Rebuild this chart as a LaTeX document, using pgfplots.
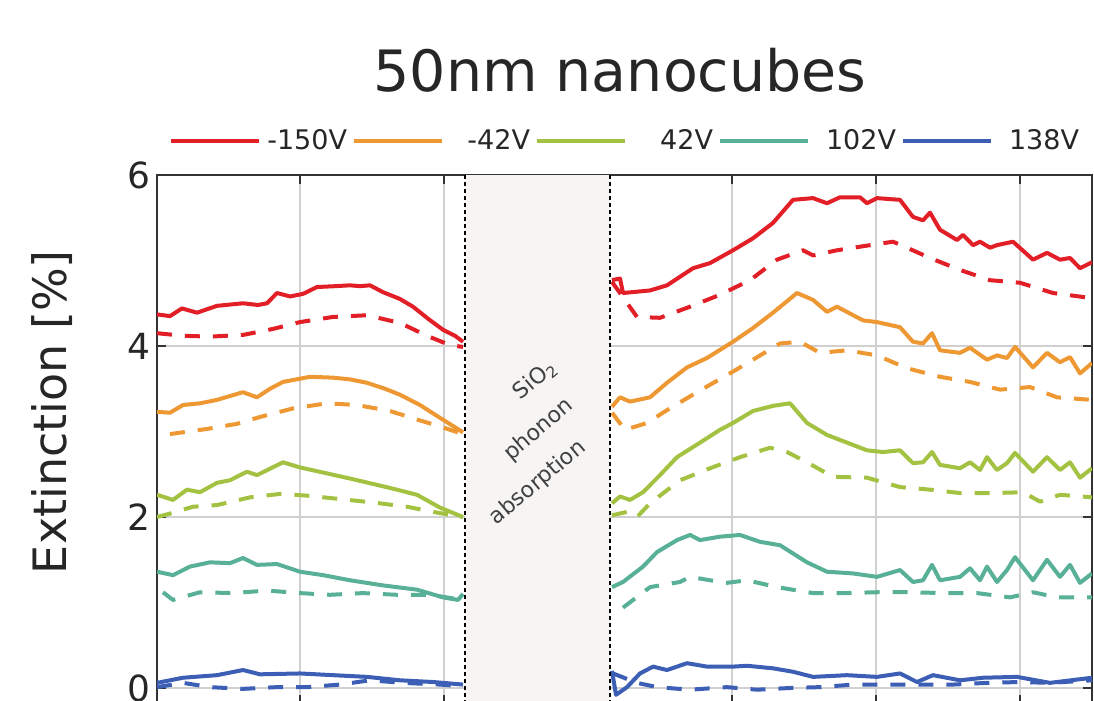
\documentclass[border=0pt]{standalone}
\usepackage{fontspec}
\setmainfont{DejaVu Sans}
\usepackage{pgfplots}
\pgfplotsset{compat=1.18}
\definecolor{cRed}{RGB}{226,30,38}
\definecolor{cOrange}{RGB}{238,152,52}
\definecolor{cGreen}{RGB}{164,194,66}
\definecolor{cTeal}{RGB}{88,176,150}
\definecolor{cBlue}{RGB}{60,94,180}
\definecolor{bandc}{RGB}{246,245,244}
\definecolor{gridc}{RGB}{208,208,208}
\begin{document}
\begin{tikzpicture}
\begin{axis}[
  scale only axis, width=467.5bp, height=264.6bp,
  xmin=157, xmax=1092, ymin=-0.19, ymax=6,
  xtick={300,444,588,732,876,1020}, xticklabels={},
  ytick={0,2,4,6},
  grid=major, major grid style={gridc, line width=0.6bp},
  tick align=inside, major tick length=4.5bp,
  tick style={line width=0.8bp, black!80},
  axis line style={line width=1bp, black!80},
  /pgf/number format/assume math mode=true,
  yticklabel style={font=\fontsize{18bp}{20bp}\selectfont, text=black!85},
  ylabel={Extinction [\%]},
  ylabel style={font=\fontsize{23bp}{26bp}\selectfont, text=black!85, at={(axis description cs:-0.112,0.552)}, anchor=center},
  title={50nm nanocubes},
  title style={font=\fontsize{28.5bp}{32bp}\selectfont, text=black!85, at={(axis description cs:0.4952,1.176)}, anchor=center},
  legend columns=5,
  legend style={at={(axis description cs:0.4995,1.064)}, anchor=center, draw=none, fill=none,
    font=\fontsize{13.5bp}{15bp}\selectfont, text=black!85, inner sep=0pt, outer sep=0pt,
    nodes={inner sep=0pt, text width=41bp, align=right},
    /tikz/every odd column/.append style={column sep=2bp},
    /tikz/every even column/.append style={column sep=2.5bp}},
  legend image code/.code={\draw[#1] (0bp,0bp) -- (44bp,0bp);},
  every axis plot/.append style={no marks, line width=2bp, line join=round},
]
% ---------- red ----------
\addplot[cRed] coordinates {(157,4.37) (170,4.35) (182,4.44) (197,4.39) (217,4.47) (243,4.50) (258,4.48) (267,4.50) (277,4.62) (290,4.58) (303,4.61) (317,4.69) (335,4.70) (350,4.71) (360,4.70) (370,4.71) (383,4.63) (400,4.55) (413,4.46) (428,4.32) (443,4.19) (455,4.12) (463,4.05)};
\addlegendentry{\mbox{-150V}}
\addplot[cRed, forget plot] coordinates {(612,4.77) (620,4.79) (623,4.62) (650,4.65) (667,4.71) (693,4.91) (710,4.97) (733,5.12) (753,5.26) (773,5.44) (793,5.71) (813,5.73) (827,5.67) (840,5.74) (860,5.74) (867,5.67) (877,5.73) (900,5.71) (913,5.51) (923,5.47) (930,5.56) (940,5.36) (957,5.24) (963,5.30) (973,5.18) (980,5.22) (990,5.15) (997,5.18) (1013,5.22) (1033,5.01) (1047,5.09) (1060,5.01) (1070,5.03) (1080,4.91) (1092,4.98)};
\addplot[cRed, forget plot, dash pattern=on 7.5bp off 6.5bp] coordinates {(157,4.15) (183,4.12) (210,4.11) (243,4.13) (273,4.20) (300,4.28) (333,4.34) (367,4.36) (400,4.27) (427,4.12) (450,4.01) (463,3.99)};
\addplot[cRed, forget plot, dash pattern=on 7.5bp off 6.5bp] coordinates {(612,4.75) (620,4.62) (637,4.34) (660,4.33) (690,4.46) (720,4.60) (750,4.77) (777,5.01) (803,5.12) (813,5.06) (837,5.12) (870,5.18) (893,5.22) (907,5.15) (930,5.03) (960,4.89) (990,4.77) (1020,4.74) (1053,4.62) (1092,4.56)};
% ---------- orange ----------
\addplot[cOrange] coordinates {(157,3.23) (170,3.22) (183,3.31) (200,3.33) (217,3.37) (243,3.46) (257,3.40) (270,3.50) (283,3.58) (310,3.64) (333,3.63) (350,3.61) (367,3.57) (385,3.50) (400,3.43) (420,3.31) (440,3.16) (455,3.05) (463,2.99)};
\addlegendentry{\mbox{-42V}}
\addplot[cOrange, forget plot] coordinates {(612,3.29) (620,3.40) (630,3.35) (650,3.40) (667,3.57) (687,3.75) (707,3.86) (733,4.05) (753,4.21) (773,4.39) (797,4.62) (813,4.54) (827,4.40) (837,4.46) (863,4.30) (877,4.28) (900,4.22) (913,4.05) (923,4.03) (932,4.15) (940,3.95) (960,3.92) (970,3.98) (987,3.84) (997,3.89) (1007,3.86) (1015,3.99) (1033,3.75) (1047,3.92) (1060,3.81) (1070,3.87) (1080,3.68) (1092,3.80)};
\addplot[cOrange, forget plot, dash pattern=on 7.5bp off 6.5bp] coordinates {(170,2.97) (207,3.03) (237,3.09) (260,3.17) (293,3.27) (327,3.33) (357,3.31) (390,3.24) (417,3.14) (440,3.06) (463,2.97)};
\addplot[cOrange, forget plot, dash pattern=on 7.5bp off 6.5bp] coordinates {(612,3.22) (625,3.02) (647,3.10) (667,3.25) (697,3.46) (727,3.66) (753,3.84) (780,4.03) (800,4.05) (820,3.92) (847,3.95) (877,3.89) (907,3.74) (940,3.64) (970,3.58) (1000,3.49) (1030,3.52) (1057,3.40) (1092,3.37)};
% ---------- green ----------
\addplot[cGreen] coordinates {(157,2.26) (173,2.20) (187,2.32) (200,2.29) (217,2.40) (230,2.43) (247,2.53) (257,2.49) (283,2.64) (300,2.58) (327,2.51) (350,2.45) (390,2.34) (417,2.26) (440,2.11) (463,2.00)};
\addlegendentry{\mbox{42V}}
\addplot[cGreen, forget plot] coordinates {(612,2.16) (620,2.24) (630,2.20) (643,2.29) (660,2.49) (677,2.70) (700,2.87) (720,3.02) (733,3.10) (753,3.24) (773,3.30) (790,3.33) (807,3.10) (827,2.96) (847,2.87) (867,2.78) (883,2.76) (900,2.78) (913,2.63) (923,2.64) (932,2.76) (940,2.61) (960,2.57) (970,2.64) (980,2.55) (987,2.70) (997,2.55) (1007,2.63) (1015,2.75) (1033,2.53) (1047,2.70) (1060,2.55) (1070,2.64) (1080,2.46) (1092,2.57)};
\addplot[cGreen, forget plot, dash pattern=on 7.5bp off 6.5bp] coordinates {(157,2.00) (170,2.04) (193,2.12) (217,2.14) (250,2.23) (280,2.27) (307,2.25) (340,2.21) (373,2.17) (407,2.12) (433,2.06) (463,2.00)};
\addplot[cGreen, forget plot, dash pattern=on 7.5bp off 6.5bp] coordinates {(612,2.02) (627,2.06) (637,2.00) (650,2.16) (680,2.43) (710,2.57) (740,2.70) (770,2.81) (787,2.76) (807,2.64) (833,2.47) (867,2.46) (900,2.35) (930,2.32) (960,2.28) (993,2.28) (1023,2.29) (1040,2.18) (1060,2.26) (1092,2.23)};
% ---------- teal ----------
\addplot[cTeal] coordinates {(157,1.36) (173,1.32) (190,1.42) (210,1.47) (230,1.46) (243,1.52) (257,1.44) (277,1.45) (300,1.36) (323,1.32) (350,1.26) (383,1.20) (417,1.15) (443,1.06) (458,1.03) (463,1.10)};
\addlegendentry{\mbox{102V}}
\addplot[cTeal, forget plot] coordinates {(612,1.18) (623,1.24) (643,1.42) (657,1.59) (677,1.73) (690,1.79) (700,1.73) (720,1.77) (740,1.79) (760,1.71) (780,1.67) (807,1.47) (827,1.36) (853,1.34) (877,1.30) (900,1.38) (913,1.24) (923,1.26) (932,1.44) (940,1.26) (960,1.30) (970,1.40) (980,1.26) (987,1.42) (997,1.24) (1007,1.38) (1015,1.53) (1033,1.26) (1047,1.50) (1060,1.30) (1070,1.44) (1080,1.23) (1092,1.34)};
\addplot[cTeal, forget plot, dash pattern=on 7.5bp off 6.5bp] coordinates {(163,1.12) (173,1.03) (200,1.12) (233,1.11) (267,1.14) (300,1.11) (330,1.09) (363,1.11) (397,1.09) (430,1.09) (463,1.03)};
\addplot[cTeal, forget plot, dash pattern=on 7.5bp off 6.5bp] coordinates {(623,0.94) (650,1.18) (680,1.24) (690,1.30) (710,1.26) (727,1.23) (747,1.26) (777,1.18) (813,1.11) (843,1.11) (877,1.12) (910,1.12) (943,1.11) (977,1.11) (1010,1.06) (1033,1.12) (1057,1.06) (1092,1.06)};
% ---------- blue ----------
\addplot[cBlue] coordinates {(157,0.06) (183,0.12) (217,0.15) (243,0.21) (260,0.16) (300,0.17) (333,0.15) (367,0.13) (400,0.09) (433,0.07) (463,0.04)};
\addlegendentry{\mbox{138V}}
\addplot[cBlue, forget plot] coordinates {(612,0.20) (616,-0.08) (627,0.01) (640,0.17) (653,0.25) (667,0.21) (687,0.29) (707,0.25) (733,0.25) (747,0.26) (773,0.23) (793,0.19) (813,0.13) (847,0.15) (877,0.13) (900,0.17) (917,0.07) (933,0.15) (960,0.09) (983,0.12) (1017,0.13) (1050,0.06) (1092,0.12)};
\addplot[cBlue, forget plot, dash pattern=on 7.5bp off 6.5bp] coordinates {(157,0.01) (183,0.06) (210,0.01) (243,-0.01) (277,0.01) (307,0.01) (340,0.04) (370,0.09) (403,0.06) (440,0.04) (463,0.02)};
\addplot[cBlue, forget plot, dash pattern=on 7.5bp off 6.5bp] coordinates {(613,0.17) (637,0.06) (657,0.01) (690,-0.02) (727,0.01) (757,-0.02) (790,0.00) (820,0.01) (853,0.04) (887,0.04) (920,0.04) (953,0.04) (987,0.06) (1020,0.07) (1050,0.06) (1092,0.09)};
% ---------- band ----------
\fill[bandc] (axis cs:465,-0.19) rectangle (axis cs:610,6);
\draw[black, line width=1bp, dash pattern=on 2.2bp off 1.3bp] (axis cs:465,-0.19) -- (axis cs:465,6);
\draw[black, line width=1bp, dash pattern=on 2.2bp off 1.3bp] (axis cs:610,-0.19) -- (axis cs:610,6);
\node[rotate=40, inner sep=0pt, font=\fontsize{11bp}{13bp}\selectfont, text=black!75] at (axis cs:535,3.60) {SiO\textsubscript{2}};
\node[rotate=40, inner sep=0pt, font=\fontsize{11bp}{13bp}\selectfont, text=black!75] at (axis cs:539,3.02) {phonon};
\node[rotate=40, inner sep=0pt, font=\fontsize{11bp}{13bp}\selectfont, text=black!75] at (axis cs:538,2.40) {absorption};
\end{axis}
\pgfresetboundingbox
\path[use as bounding box] (-78.5bp,1.62bp) rectangle (468.5bp,352.12bp);
\end{tikzpicture}
\end{document}
